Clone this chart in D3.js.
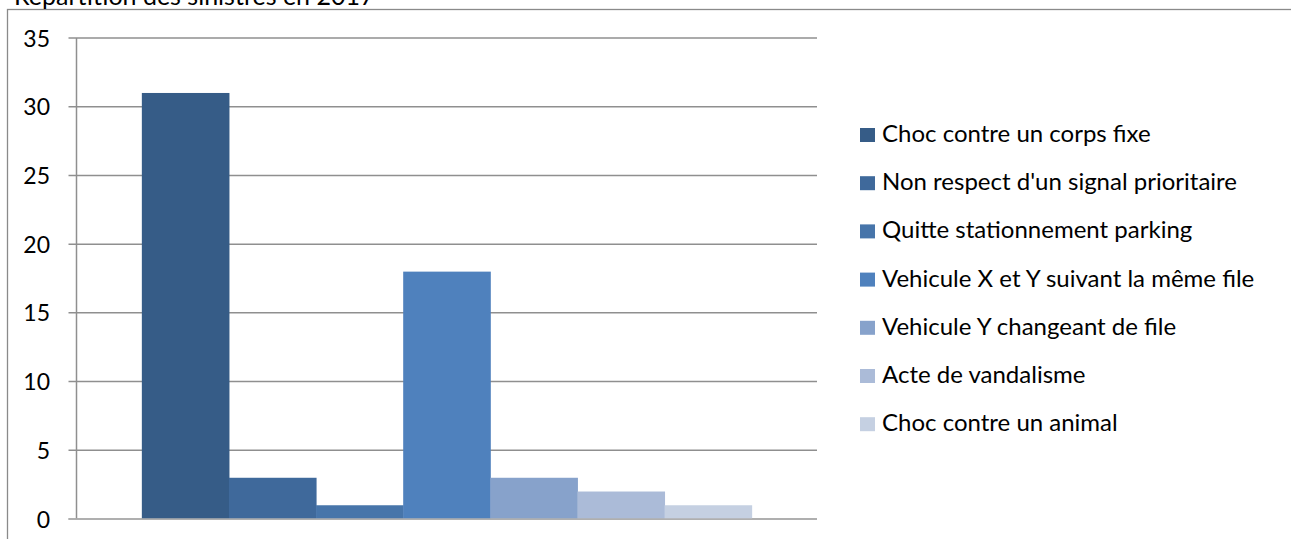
<!DOCTYPE html>
<html>
<head>
<meta charset="utf-8">
<script src="https://cdn.jsdelivr.net/npm/d3@7"></script>
<style>
  body { margin:0; background:#fff; overflow:hidden; }
  svg text { font-family: Lato, "Liberation Sans", sans-serif; fill:#000; }
</style>
</head>
<body>
<svg id="chart" width="1291" height="539"></svg>
<script>
(function(){

var title = "Répartition des sinistres en 2017";
var categories = ["Choc contre un corps fixe", "Non respect d'un signal prioritaire",
  "Quitte stationnement parking", "Vehicule X et Y suivant la même file",
  "Vehicule Y changeant de file", "Acte de vandalisme", "Choc contre un animal"];
var values = [31, 3, 1, 18, 3, 2, 1];
var yTicks = [0, 5, 10, 15, 20, 25, 30, 35];
var colors = ["#365c87", "#3f699b", "#4775aa", "#4f81bd", "#87a2cb", "#abbbd8", "#c5d0e2"];

var svg = d3.select("#chart");
var grid = "#8f8f8f";

// outer frame of the chart area (runs off the picture right and bottom)
svg.append("rect")
  .attr("x", 7.5).attr("y", 9.5)
  .attr("width", 1400).attr("height", 600)
  .attr("fill", "none").attr("stroke", "#8a8a8a").attr("stroke-width", 1.3);

// title, mostly clipped at the top like in the source
svg.append("text")
  .attr("x", 14).attr("y", 5)
  .style("font-size", "25px")
  .text(title);

var left = 76.5, right = 817, top = 38, bottom = 519;

var y = d3.scaleLinear().domain([0, 35]).range([bottom, top]);

// one group, excel style gap of 150%
var x0 = d3.scaleBand().domain(["2017"]).range([left, right])
  .paddingInner(1.5 / 8.5).paddingOuter(0.75 / 8.5);
var x1 = d3.scaleBand().domain(categories).range([0, x0.bandwidth()]);

// gridlines + ticks
svg.append("g").selectAll("line")
  .data(yTicks)
  .enter().append("line")
  .attr("x1", left - 8).attr("x2", right)
  .attr("y1", function(d){ return y(d); })
  .attr("y2", function(d){ return y(d); })
  .attr("stroke", grid).attr("stroke-width", 1.5);

// y axis line
svg.append("line")
  .attr("x1", left).attr("x2", left)
  .attr("y1", top).attr("y2", bottom)
  .attr("stroke", grid).attr("stroke-width", 1.5);

// y labels
svg.append("g").selectAll("text")
  .data(yTicks)
  .enter().append("text")
  .attr("x", 50)
  .attr("y", function(d){ return y(d) + 8.5; })
  .attr("text-anchor", "end")
  .style("font-size", "23px")
  .text(function(d){ return d; });

// bars
svg.append("g")
  .attr("transform", "translate(" + x0("2017") + ",0)")
  .selectAll("rect")
  .data(values)
  .enter().append("rect")
  .attr("x", function(d, i){ return x1(categories[i]); })
  .attr("width", x1.bandwidth() + 0.5)
  .attr("y", function(d){ return y(d); })
  .attr("height", function(d){ return bottom - y(d); })
  .attr("fill", function(d, i){ return colors[i]; });

// baseline over the bars
svg.append("line")
  .attr("x1", left - 8).attr("x2", right)
  .attr("y1", bottom).attr("y2", bottom)
  .attr("stroke", "#b0b0b0").attr("stroke-width", 1.5);

// legend
var legend = svg.append("g").selectAll("g")
  .data(categories)
  .enter().append("g")
  .attr("transform", function(d, i){ return "translate(860," + (142 + i * 48.2) + ")"; });

legend.append("rect")
  .attr("x", 0).attr("y", -14)
  .attr("width", 15).attr("height", 14)
  .attr("fill", function(d, i){ return colors[i]; });

legend.append("text")
  .attr("x", 22).attr("y", 0)
  .style("font-size", "24px")
  .text(function(d){ return d; });

})();
</script>
</body>
</html>
